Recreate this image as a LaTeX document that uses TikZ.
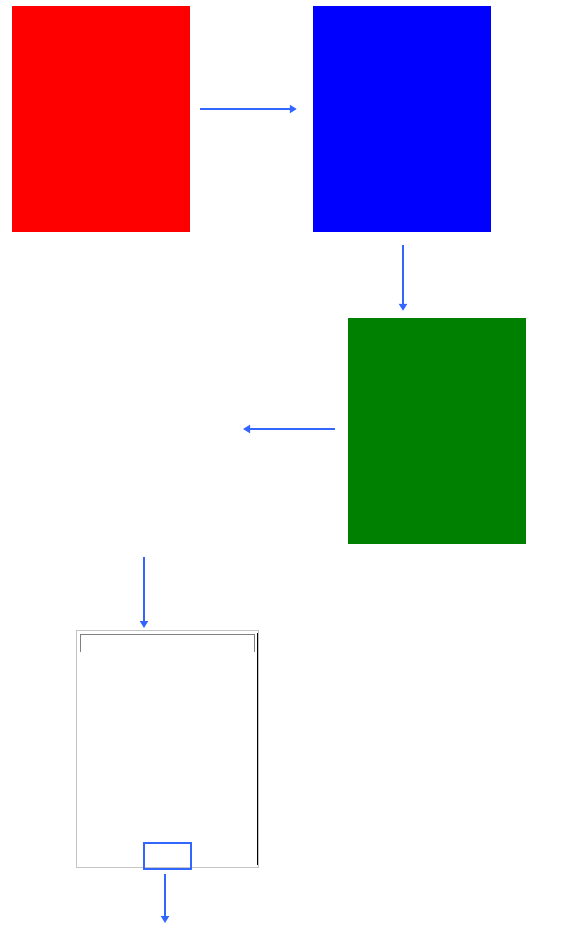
\documentclass[tikz,border=0pt]{standalone}
\usetikzlibrary{arrows.meta}
\definecolor{arrblue}{HTML}{3366FF}
\definecolor{lightgray}{HTML}{C4C4C4}
\definecolor{midgray}{HTML}{808080}
\tikzset{
  colbox/.style={rectangle, draw=none, minimum width=178pt, minimum height=226pt, inner sep=0pt},
  arr/.style={draw=arrblue, line width=2pt, -{Triangle[length=7pt,width=8pt]}},
  hlbox/.style={rectangle, draw=arrblue, line width=2.2pt, minimum width=47pt, minimum height=26pt, inner sep=0pt},
  framebox/.style={rectangle, draw=lightgray, line width=1pt, minimum width=182pt, minimum height=237pt, inner sep=0pt}
}
\begin{document}
\begin{tikzpicture}[x=1pt,y=-1pt]
\useasboundingbox (0,0) rectangle (565,927);
\node[colbox, fill=red] (red) at (101,119) {};
\node[colbox, fill=blue] (blue) at (402,119) {};
\node[colbox, fill={rgb,255:red,0;green,128;blue,0}] (green) at (437,431) {};
\node[framebox] (frame) at (167,748.5) {};
\draw[midgray, line width=1pt] (80.5,652) -- (80.5,634.5) -- (254.5,634.5) -- (254.5,652);
\draw[black, line width=1.2pt] (257.3,633) -- (257.3,865);
\node[hlbox] (hl) at (167.5,856) {};
\coordinate (a3end) at (243,429);
\coordinate (a4start) at (144,557);
\coordinate (a5end) at (165,923);
\draw[arr, shorten <=10pt, shorten >=16pt] ([yshift=10pt]red.east) -- ([yshift=10pt]blue.west);
\draw[arr, shorten <=13pt, shorten >=7pt] ([xshift=1pt]blue.south) -- ([xshift=1pt]blue.south |- green.north);
\draw[arr, shorten <=13pt] ([yshift=2pt]green.west) -- (a3end);
\draw[arr, shorten >=1.5pt] (a4start) -- (a4start |- frame.north);
\draw[arr, shorten <=4pt] ([xshift=-2.5pt]hl.south) -- (a5end);
\end{tikzpicture}
\end{document}
